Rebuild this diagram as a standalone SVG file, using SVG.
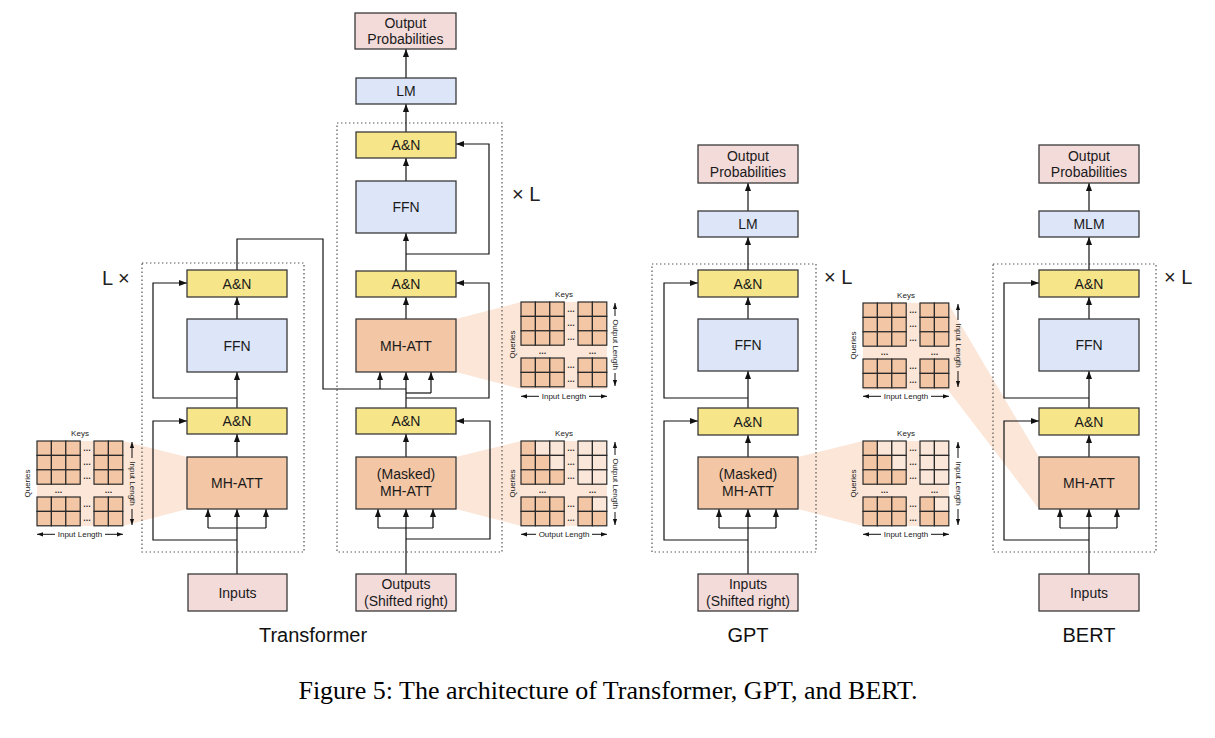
<svg xmlns="http://www.w3.org/2000/svg" xmlns:xlink="http://www.w3.org/1999/xlink" width="1215" height="738" viewBox="0 0 1215 738">
<style>
.box{stroke:#3a3a3a;stroke-width:1.3}
.an{fill:#f6e589}
.ffn{fill:#dde6f8}
.mh{fill:#f3c6a5}
.op{fill:#f3dbda}
.t{font-family:"Liberation Sans",Arial,sans-serif;font-size:14px;fill:#1a1a1a;text-anchor:middle}
.lbl{font-family:"Liberation Sans",Arial,sans-serif;font-size:20px;fill:#111;text-anchor:middle}
.xl{font-family:"Liberation Sans",Arial,sans-serif;font-size:20px;fill:#222}
.cap{font-family:"Liberation Serif","Times New Roman",serif;font-size:26px;fill:#000;text-anchor:middle}
.dot{fill:none;stroke:#555;stroke-width:1.2;stroke-dasharray:1.4 2.6}
.c{fill:none;stroke:#111;stroke-width:1.2}
.ca{fill:none;stroke:#111;stroke-width:1.2;marker-end:url(#ah)}
.band{fill:#fbe6d8}
.d{fill:#f3c6a5;stroke:#2a2a2a;stroke-width:1.2}
.l{fill:#fbe7da;stroke:#2a2a2a;stroke-width:1.2}
.s{font-family:"Liberation Sans",Arial,sans-serif;font-size:8px;fill:#222;text-anchor:middle}
.dd{font-family:"Liberation Sans",Arial,sans-serif;font-size:9px;font-weight:bold;fill:#333;text-anchor:middle}
.sa{fill:none;stroke:#111;stroke-width:1;marker-end:url(#sh)}
</style>
<defs>
<marker id="ah" viewBox="0 0 10 10" refX="10" refY="5" markerWidth="8" markerHeight="8" markerUnits="userSpaceOnUse" orient="auto"><path d="M0,1.2 L10,5 L0,8.8 z" fill="#111"/></marker>
<marker id="sh" viewBox="0 0 10 10" refX="10" refY="5" markerWidth="6" markerHeight="6" markerUnits="userSpaceOnUse" orient="auto"><path d="M0,1.5 L10,5 L0,8.5 z" fill="#111"/></marker>
<g id="dots">
<text class="dd" x="50" y="9.5">...</text>
<text class="dd" x="50" y="23.9">...</text>
<text class="dd" x="50" y="38.3">...</text>
<text class="dd" x="50" y="65.5">...</text>
<text class="dd" x="50" y="79.9">...</text>
<text class="dd" x="21.6" y="51.5">...</text>
<text class="dd" x="71.4" y="51.5">...</text>
</g>
<g id="gridFull">
<rect class="d" x="0" y="0" width="14.4" height="14.4"/><rect class="d" x="14.4" y="0" width="14.4" height="14.4"/><rect class="d" x="28.8" y="0" width="14.4" height="14.4"/><rect class="d" x="57" y="0" width="14.4" height="14.4"/><rect class="d" x="71.4" y="0" width="14.4" height="14.4"/>
<rect class="d" x="0" y="14.4" width="14.4" height="14.4"/><rect class="d" x="14.4" y="14.4" width="14.4" height="14.4"/><rect class="d" x="28.8" y="14.4" width="14.4" height="14.4"/><rect class="d" x="57" y="14.4" width="14.4" height="14.4"/><rect class="d" x="71.4" y="14.4" width="14.4" height="14.4"/>
<rect class="d" x="0" y="28.8" width="14.4" height="14.4"/><rect class="d" x="14.4" y="28.8" width="14.4" height="14.4"/><rect class="d" x="28.8" y="28.8" width="14.4" height="14.4"/><rect class="d" x="57" y="28.8" width="14.4" height="14.4"/><rect class="d" x="71.4" y="28.8" width="14.4" height="14.4"/>
<rect class="d" x="0" y="56" width="14.4" height="14.4"/><rect class="d" x="14.4" y="56" width="14.4" height="14.4"/><rect class="d" x="28.8" y="56" width="14.4" height="14.4"/><rect class="d" x="57" y="56" width="14.4" height="14.4"/><rect class="d" x="71.4" y="56" width="14.4" height="14.4"/>
<rect class="d" x="0" y="70.4" width="14.4" height="14.4"/><rect class="d" x="14.4" y="70.4" width="14.4" height="14.4"/><rect class="d" x="28.8" y="70.4" width="14.4" height="14.4"/><rect class="d" x="57" y="70.4" width="14.4" height="14.4"/><rect class="d" x="71.4" y="70.4" width="14.4" height="14.4"/>
<use xlink:href="#dots" href="#dots"/>
</g>
<g id="gridMask">
<rect class="d" x="0" y="0" width="14.4" height="14.4"/><rect class="l" x="14.4" y="0" width="14.4" height="14.4"/><rect class="l" x="28.8" y="0" width="14.4" height="14.4"/><rect class="l" x="57" y="0" width="14.4" height="14.4"/><rect class="l" x="71.4" y="0" width="14.4" height="14.4"/>
<rect class="d" x="0" y="14.4" width="14.4" height="14.4"/><rect class="d" x="14.4" y="14.4" width="14.4" height="14.4"/><rect class="l" x="28.8" y="14.4" width="14.4" height="14.4"/><rect class="l" x="57" y="14.4" width="14.4" height="14.4"/><rect class="l" x="71.4" y="14.4" width="14.4" height="14.4"/>
<rect class="d" x="0" y="28.8" width="14.4" height="14.4"/><rect class="d" x="14.4" y="28.8" width="14.4" height="14.4"/><rect class="d" x="28.8" y="28.8" width="14.4" height="14.4"/><rect class="l" x="57" y="28.8" width="14.4" height="14.4"/><rect class="l" x="71.4" y="28.8" width="14.4" height="14.4"/>
<rect class="d" x="0" y="56" width="14.4" height="14.4"/><rect class="d" x="14.4" y="56" width="14.4" height="14.4"/><rect class="d" x="28.8" y="56" width="14.4" height="14.4"/><rect class="d" x="57" y="56" width="14.4" height="14.4"/><rect class="l" x="71.4" y="56" width="14.4" height="14.4"/>
<rect class="d" x="0" y="70.4" width="14.4" height="14.4"/><rect class="d" x="14.4" y="70.4" width="14.4" height="14.4"/><rect class="d" x="28.8" y="70.4" width="14.4" height="14.4"/><rect class="d" x="57" y="70.4" width="14.4" height="14.4"/><rect class="d" x="71.4" y="70.4" width="14.4" height="14.4"/>
<use xlink:href="#dots" href="#dots"/>
</g>
</defs>
<rect width="1215" height="738" fill="#fff"/>

<!-- projection bands -->
<g id="bands">
<polygon class="band" points="37,441 123,441 187,457 187,509 123,526 37,526"/>
<polygon class="band" points="456,319 521,302 607,302 607,389 521,389 456,372"/>
<polygon class="band" points="456,457 521,441 607,441 607,526 521,526 456,509"/>
<polygon class="band" points="798,457 863,441 949,441 949,526 863,526 798,509"/>
<polygon class="band" points="863,303 948,303 1039,457 1039,509 948,390 863,390"/>
</g>

<!-- dotted layer boxes -->
<g id="layers">
<rect class="dot" x="142" y="263" width="162" height="289"/>
<rect class="dot" x="337" y="123" width="165" height="429"/>
<rect class="dot" x="652" y="264" width="164" height="288"/>
<rect class="dot" x="993" y="264" width="163" height="288"/>
<text class="xl" x="102" y="285">L ×</text>
<text class="xl" x="512" y="201">× L</text>
<text class="xl" x="824" y="284">× L</text>
<text class="xl" x="1164" y="284">× L</text>
</g>

<!-- connectors -->
<g id="connectors">
<!-- encoder -->
<path class="ca" d="M237,574 V509"/>
<path class="c" d="M208,528 H266"/>
<path class="ca" d="M208,528 V509"/>
<path class="ca" d="M266,528 V509"/>
<path class="ca" d="M237,540 H153 V421 H187"/>
<path class="ca" d="M237,457 V434"/>
<path class="ca" d="M237,408 V372"/>
<path class="ca" d="M237,398 H153 V283 H187"/>
<path class="ca" d="M237,319 V297"/>
<path class="c" d="M237,270 V239 H323 V389 H406"/>
<path class="ca" d="M380,389 V372"/>
<!-- decoder -->
<path class="ca" d="M406,574 V509"/>
<path class="c" d="M378,528 H433"/>
<path class="ca" d="M378,528 V509"/>
<path class="ca" d="M433,528 V509"/>
<path class="ca" d="M406,539 H490 V421 H456"/>
<path class="ca" d="M406,457 V434"/>
<path class="ca" d="M406,408 V372"/>
<path class="c" d="M406,393 H431"/>
<path class="ca" d="M431,393 V372"/>
<path class="ca" d="M406,398 H489 V283 H456"/>
<path class="ca" d="M406,319 V297"/>
<path class="ca" d="M406,271 V233"/>
<path class="ca" d="M406,254 H489 V144 H456"/>
<path class="ca" d="M406,181 V158"/>
<path class="ca" d="M406,132 V104"/>
<path class="ca" d="M406,78 V49"/>
<!-- GPT -->
<path class="ca" d="M748,574 V509"/>
<path class="c" d="M719,528 H776"/>
<path class="ca" d="M719,528 V509"/>
<path class="ca" d="M776,528 V509"/>
<path class="ca" d="M748,540 H664 V421 H698"/>
<path class="ca" d="M748,457 V435"/>
<path class="ca" d="M748,408 V371"/>
<path class="ca" d="M748,398 H664 V283 H698"/>
<path class="ca" d="M748,319 V297"/>
<path class="ca" d="M748,270 V237"/>
<path class="ca" d="M748,211 V183"/>
<!-- BERT -->
<path class="ca" d="M1089,574 V509"/>
<path class="c" d="M1060,528 H1117"/>
<path class="ca" d="M1060,528 V509"/>
<path class="ca" d="M1117,528 V509"/>
<path class="ca" d="M1089,540 H1004 V421 H1039"/>
<path class="ca" d="M1089,457 V435"/>
<path class="ca" d="M1089,408 V371"/>
<path class="ca" d="M1089,398 H1004 V283 H1039"/>
<path class="ca" d="M1089,319 V297"/>
<path class="ca" d="M1089,270 V237"/>
<path class="ca" d="M1089,211 V183"/>
</g>

<!-- Transformer encoder nodes -->
<g id="enc-an2"><rect class="box an" x="187" y="270" width="100" height="27"/><text class="t" x="237" y="288.5">A&amp;N</text></g>
<g id="enc-ffn"><rect class="box ffn" x="187" y="319" width="100" height="53"/><text class="t" x="237" y="350.5">FFN</text></g>
<g id="enc-an1"><rect class="box an" x="187" y="408" width="100" height="26"/><text class="t" x="237" y="426">A&amp;N</text></g>
<g id="enc-mhatt"><rect class="box mh" x="187" y="457" width="100" height="52"/><text class="t" x="237" y="488">MH-ATT</text></g>
<g id="enc-inputs"><rect class="box op" x="188" y="574" width="99" height="37"/><text class="t" x="237.5" y="597.5">Inputs</text></g>

<!-- Transformer decoder nodes -->
<g id="dec-outprob"><rect class="box op" x="355" y="13" width="101" height="36"/><text class="t" x="405.5" y="28">Output</text><text class="t" x="405.5" y="44">Probabilities</text></g>
<g id="dec-lm"><rect class="box ffn" x="356" y="78" width="100" height="26"/><text class="t" x="406" y="96">LM</text></g>
<g id="dec-an3"><rect class="box an" x="356" y="132" width="100" height="26"/><text class="t" x="406" y="150">A&amp;N</text></g>
<g id="dec-ffn"><rect class="box ffn" x="356" y="181" width="100" height="52"/><text class="t" x="406" y="212">FFN</text></g>
<g id="dec-an2"><rect class="box an" x="356" y="271" width="100" height="26"/><text class="t" x="406" y="289">A&amp;N</text></g>
<g id="dec-mhatt"><rect class="box mh" x="356" y="319" width="100" height="53"/><text class="t" x="406" y="350.5">MH-ATT</text></g>
<g id="dec-an1"><rect class="box an" x="356" y="408" width="100" height="26"/><text class="t" x="406" y="426">A&amp;N</text></g>
<g id="dec-masked"><rect class="box mh" x="356" y="457" width="100" height="52"/><text class="t" x="406" y="479">(Masked)</text><text class="t" x="406" y="496">MH-ATT</text></g>
<g id="dec-outputs"><rect class="box op" x="356" y="574" width="100" height="37"/><text class="t" x="406" y="589">Outputs</text><text class="t" x="406" y="606">(Shifted right)</text></g>

<!-- GPT nodes -->
<g id="gpt-outprob"><rect class="box op" x="698" y="145" width="100" height="38"/><text class="t" x="748" y="161">Output</text><text class="t" x="748" y="177">Probabilities</text></g>
<g id="gpt-lm"><rect class="box ffn" x="698" y="211" width="100" height="26"/><text class="t" x="748" y="229">LM</text></g>
<g id="gpt-an2"><rect class="box an" x="698" y="270" width="100" height="27"/><text class="t" x="748" y="288.5">A&amp;N</text></g>
<g id="gpt-ffn"><rect class="box ffn" x="698" y="319" width="100" height="52"/><text class="t" x="748" y="350">FFN</text></g>
<g id="gpt-an1"><rect class="box an" x="698" y="408" width="100" height="27"/><text class="t" x="748" y="426.5">A&amp;N</text></g>
<g id="gpt-masked"><rect class="box mh" x="698" y="457" width="100" height="52"/><text class="t" x="748" y="479">(Masked)</text><text class="t" x="748" y="496">MH-ATT</text></g>
<g id="gpt-inputs"><rect class="box op" x="698" y="574" width="100" height="37"/><text class="t" x="748" y="589">Inputs</text><text class="t" x="748" y="606">(Shifted right)</text></g>

<!-- BERT nodes -->
<g id="bert-outprob"><rect class="box op" x="1039" y="145" width="100" height="38"/><text class="t" x="1089" y="161">Output</text><text class="t" x="1089" y="177">Probabilities</text></g>
<g id="bert-mlm"><rect class="box ffn" x="1039" y="211" width="100" height="26"/><text class="t" x="1089" y="229">MLM</text></g>
<g id="bert-an2"><rect class="box an" x="1039" y="270" width="100" height="27"/><text class="t" x="1089" y="288.5">A&amp;N</text></g>
<g id="bert-ffn"><rect class="box ffn" x="1039" y="319" width="100" height="52"/><text class="t" x="1089" y="350">FFN</text></g>
<g id="bert-an1"><rect class="box an" x="1039" y="408" width="100" height="27"/><text class="t" x="1089" y="426.5">A&amp;N</text></g>
<g id="bert-mhatt"><rect class="box mh" x="1039" y="457" width="100" height="52"/><text class="t" x="1089" y="488">MH-ATT</text></g>
<g id="bert-inputs"><rect class="box op" x="1039" y="574" width="100" height="37"/><text class="t" x="1089" y="597.5">Inputs</text></g>

<!-- attention matrices -->
<g id="mat-enc" transform="translate(37,441)">
<use xlink:href="#gridFull" href="#gridFull"/>
<text class="s" x="43" y="-5">Keys</text>
<text class="s" transform="translate(-7,42.5) rotate(-90)">Queries</text>
<text class="s" transform="translate(92.5,42.5) rotate(90)">Input Length</text>
<path class="sa" d="M95,17 V1"/><path class="sa" d="M95,68 V84"/>
<text class="s" x="43" y="96">Input Length</text>
<path class="sa" d="M18,93.3 H0"/><path class="sa" d="M68,93.3 H86"/>
</g>
<g id="mat-dec-cross" transform="translate(521,302)">
<use xlink:href="#gridFull" href="#gridFull"/>
<text class="s" x="43" y="-5">Keys</text>
<text class="s" transform="translate(-6,42.5) rotate(-90)">Queries</text>
<text class="s" transform="translate(91.5,42.5) rotate(90)">Output Length</text>
<path class="sa" d="M94,14 V1"/><path class="sa" d="M94,71 V84"/>
<text class="s" x="43" y="97">Input Length</text>
<path class="sa" d="M18,94.3 H0"/><path class="sa" d="M68,94.3 H86"/>
</g>
<g id="mat-dec-self" transform="translate(521,441)">
<use xlink:href="#gridMask" href="#gridMask"/>
<text class="s" x="43" y="-5">Keys</text>
<text class="s" transform="translate(-6,42.5) rotate(-90)">Queries</text>
<text class="s" transform="translate(91.5,42.5) rotate(90)">Output Length</text>
<path class="sa" d="M94,14 V1"/><path class="sa" d="M94,71 V84"/>
<text class="s" x="43" y="96">Output Length</text>
<path class="sa" d="M15,93.3 H0"/><path class="sa" d="M71,93.3 H86"/>
</g>
<g id="mat-gpt" transform="translate(863,441)">
<use xlink:href="#gridMask" href="#gridMask"/>
<text class="s" x="43" y="-5">Keys</text>
<text class="s" transform="translate(-7,42.5) rotate(-90)">Queries</text>
<text class="s" transform="translate(92.5,42.5) rotate(90)">Input Length</text>
<path class="sa" d="M95,17 V1"/><path class="sa" d="M95,68 V84"/>
<text class="s" x="43" y="96">Input Length</text>
<path class="sa" d="M18,93.3 H0"/><path class="sa" d="M68,93.3 H86"/>
</g>
<g id="mat-bert" transform="translate(863,303)">
<use xlink:href="#gridFull" href="#gridFull"/>
<text class="s" x="43" y="-5">Keys</text>
<text class="s" transform="translate(-7,42.5) rotate(-90)">Queries</text>
<text class="s" transform="translate(92.5,42.5) rotate(90)">Input Length</text>
<path class="sa" d="M95,17 V1"/><path class="sa" d="M95,68 V84"/>
<text class="s" x="43" y="96">Input Length</text>
<path class="sa" d="M18,93.3 H0"/><path class="sa" d="M68,93.3 H86"/>
</g>

<!-- titles -->
<g id="titles">
<text class="lbl" x="313" y="642">Transformer</text>
<text class="lbl" x="748" y="642">GPT</text>
<text class="lbl" x="1089" y="642">BERT</text>
<text class="cap" x="608" y="699">Figure 5: The architecture of Transformer, GPT, and BERT.</text>
</g>
</svg>
